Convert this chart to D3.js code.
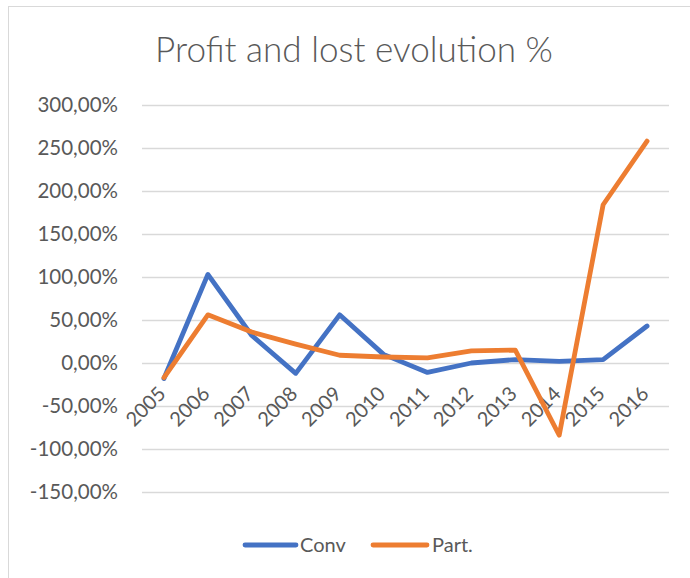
<!DOCTYPE html>
<html>
<head>
<meta charset="utf-8">
<script src="https://cdn.jsdelivr.net/npm/d3@7/dist/d3.min.js"></script>
<style>
  html, body { margin: 0; padding: 0; background: #fff; }
  svg { display: block; }
  text { font-family: Lato, "Open Sans", sans-serif; fill: #595959; }
</style>
</head>
<body>
<svg id="chart" width="690" height="578"></svg>
<script>
const categories = ["2005","2006","2007","2008","2009","2010","2011","2012","2013","2014","2015","2016"];
const convValues = [-18, 103, 32, -12, 56, 10, -11, 0, 4, 2, 4, 43];
const partValues = [-17, 56, 36, 22, 9, 7, 6, 14, 15, -84, 184, 258];
const yTicks = [300, 250, 200, 150, 100, 50, 0, -50, -100, -150];
const seriesNames = ["Conv", "Part."];
const seriesColors = ["#4472C4", "#ED7D31"];
const titleText = "Profit and lost evolution %";

const svg = d3.select("#chart");
const plot = { left: 142, right: 669, top: 105, bottom: 492 };

// outer chart border
svg.append("rect")
  .attr("x", 8.5).attr("y", 6.5)
  .attr("width", 700).attr("height", 620)
  .attr("fill", "#fff").attr("stroke", "#D9D9D9").attr("stroke-width", 1);

const x = d3.scaleBand().domain(categories).range([plot.left, plot.right]).padding(0);
const y = d3.scaleLinear().domain([-150, 300]).range([plot.bottom, plot.top]);

const fmt = v => d3.format(".2f")(v).replace(".", ",").replace("\u2212", "-") + "%";

// gridlines + y labels
const yAxis = d3.axisLeft(y).tickValues(yTicks).tickSize(-(plot.right - plot.left)).tickFormat(fmt).tickPadding(24);
const gy = svg.append("g").attr("transform", `translate(${plot.left},0)`).call(yAxis);
gy.select(".domain").remove();
gy.selectAll(".tick line").attr("stroke", "#D9D9D9").attr("stroke-width", 1.3);
gy.selectAll(".tick text")
  .attr("font-size", 20.5)
  .attr("fill", "#595959")
  .style("font-family", "Lato, 'Open Sans', sans-serif");

// x labels rotated
const gx = svg.append("g");
categories.forEach(c => {
  const cx = x(c) + x.bandwidth() / 2 + 3;
  gx.append("text")
    .attr("transform", `translate(${cx},395) rotate(-45)`)
    .attr("text-anchor", "end")
    .attr("font-size", 20)
    .text(c);
});

// lines
const allSeries = [convValues, partValues];
const line = d3.line()
  .x((d, i) => x(categories[i]) + x.bandwidth() / 2)
  .y(d => y(d));
allSeries.forEach((vals, si) => {
  svg.append("path")
    .datum(vals)
    .attr("d", line)
    .attr("fill", "none")
    .attr("stroke", seriesColors[si])
    .attr("stroke-width", 4.8)
    .attr("stroke-linejoin", "round")
    .attr("stroke-linecap", "round");
});

// title
const title = svg.append("text")
  .attr("x", 354).attr("y", 62)
  .attr("text-anchor", "middle")
  .attr("font-size", 30)
  .attr("font-weight", 300)
  .text(titleText);
const tw = title.node().getComputedTextLength();
title.attr("font-size", 30 * 398 / tw);

// legend
const legendItems = [
  { name: seriesNames[0], color: seriesColors[0], x1: 245, x2: 296, tx: 300 },
  { name: seriesNames[1], color: seriesColors[1], x1: 373, x2: 427, tx: 432 }
];
const lg = svg.append("g");
legendItems.forEach(it => {
  lg.append("line")
    .attr("x1", it.x1).attr("x2", it.x2)
    .attr("y1", 545).attr("y2", 545)
    .attr("stroke", it.color).attr("stroke-width", 4.8)
    .attr("stroke-linecap", "round");
  lg.append("text")
    .attr("x", it.tx).attr("y", 545)
    .attr("dy", "0.35em")
    .attr("font-size", 20)
    .text(it.name);
});
</script>
</body>
</html>
